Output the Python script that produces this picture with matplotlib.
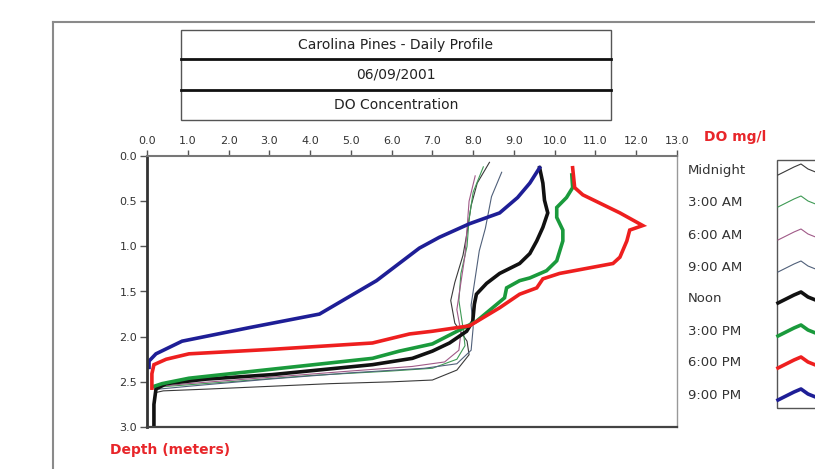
import matplotlib
matplotlib.use("Agg")
import matplotlib.pyplot as plt
from matplotlib.patches import Rectangle
from matplotlib.lines import Line2D

# ---- profile data: dissolved oxygen (mg/l) versus depth (m) ----
midnight_do = [8.4, 8.1, 7.95, 7.85, 7.75, 7.55, 7.45, 7.55, 7.85, 7.9, 7.6, 7.0, 6.0, 4.5, 3.0, 1.5, 0.4, 0.2]
midnight_depth = [0.07, 0.3, 0.55, 0.85, 1.1, 1.4, 1.6, 1.85, 2.05, 2.2, 2.37, 2.48, 2.5, 2.52, 2.55, 2.58, 2.6, 2.62]

am3_do = [8.25, 8.0, 7.9, 7.85, 7.7, 7.65, 7.75, 7.8, 7.6, 7.0, 6.0, 4.0, 2.0, 0.5, 0.2]
am3_depth = [0.12, 0.4, 0.7, 1.0, 1.3, 1.6, 1.9, 2.1, 2.25, 2.35, 2.38, 2.43, 2.5, 2.55, 2.56]

am6_do = [8.05, 7.9, 7.85, 7.8, 7.7, 7.6, 7.7, 7.65, 7.3, 6.5, 5.0, 3.0, 1.0, 0.3]
am6_depth = [0.22, 0.5, 0.8, 1.1, 1.4, 1.7, 1.95, 2.15, 2.28, 2.33, 2.38, 2.45, 2.52, 2.55]

am9_do = [8.7, 8.45, 8.3, 8.15, 8.05, 7.95, 8.0, 7.95, 7.6, 6.8, 5.0, 3.0, 1.0, 0.3]
am9_depth = [0.18, 0.45, 0.8, 1.05, 1.35, 1.65, 1.9, 2.15, 2.3, 2.35, 2.4, 2.47, 2.55, 2.58]

noon_do = [9.63, 9.71, 9.75, 9.83, 9.71, 9.56, 9.39, 9.14, 8.65, 8.33, 8.08, 8.03, 7.99, 7.84,
           7.42, 7.0, 6.51, 5.53, 3.07, 1.45, 0.47, 0.22, 0.17, 0.17]
noon_depth = [0.13, 0.30, 0.49, 0.63, 0.79, 0.94, 1.08, 1.19, 1.30, 1.41, 1.53, 1.64, 1.83, 1.94,
              2.07, 2.16, 2.24, 2.31, 2.42, 2.47, 2.52, 2.58, 2.75, 2.99]

pm3_do = [10.42, 10.44, 10.29, 10.05, 10.05, 10.20, 10.20, 10.05, 9.80, 9.39, 9.14, 8.82, 8.77,
          8.08, 7.0, 6.19, 5.53, 3.07, 1.03, 0.37, 0.17]
pm3_depth = [0.21, 0.35, 0.46, 0.57, 0.68, 0.82, 0.94, 1.16, 1.27, 1.35, 1.38, 1.46, 1.57,
             1.83, 2.08, 2.16, 2.24, 2.36, 2.46, 2.52, 2.55]

pm6_do = [10.44, 10.49, 10.69, 11.60, 12.16, 11.84, 11.77, 11.60, 11.43, 10.12, 9.71, 9.56, 9.14,
          8.65, 7.91, 7.0, 6.44, 5.53, 3.07, 1.03, 0.47, 0.17, 0.12, 0.12]
pm6_depth = [0.13, 0.35, 0.43, 0.63, 0.77, 0.82, 0.94, 1.12, 1.19, 1.30, 1.36, 1.46, 1.53,
             1.68, 1.88, 1.94, 1.97, 2.07, 2.14, 2.19, 2.25, 2.31, 2.41, 2.57]

pm9_do = [9.63, 9.39, 9.09, 8.65, 7.91, 7.17, 6.68, 5.63, 4.23, 2.51, 0.86, 0.22, 0.05, 0.05]
pm9_depth = [0.13, 0.30, 0.46, 0.63, 0.75, 0.90, 1.02, 1.38, 1.75, 1.90, 2.05, 2.19, 2.27, 2.34]

series_labels = ["Midnight", "3:00 AM", "6:00 AM", "9:00 AM", "Noon", "3:00 PM", "6:00 PM", "9:00 PM"]
x_ticks = [0, 1, 2, 3, 4, 5, 6, 7, 8, 9, 10, 11, 12, 13]
x_tick_labels = ["0.0", "1.0", "2.0", "3.0", "4.0", "5.0", "6.0", "7.0", "8.0", "9.0",
                 "10.0", "11.0", "12.0", "13.0"]
y_ticks = [0.0, 0.5, 1.0, 1.5, 2.0, 2.5, 3.0]
y_tick_labels = ["0.0", "0.5", "1.0", "1.5", "2.0", "2.5", "3.0"]
title_lines = ["Carolina Pines - Daily Profile", "06/09/2001", "DO Concentration"]

series = [
    (midnight_do, midnight_depth, "#3a3a3a", 0.8),
    (am3_do, am3_depth, "#3f9a55", 0.8),
    (am6_do, am6_depth, "#a05a88", 0.8),
    (am9_do, am9_depth, "#50607a", 0.8),
    (noon_do, noon_depth, "#111111", 2.6),
    (pm3_do, pm3_depth, "#1a9a3c", 2.6),
    (pm6_do, pm6_depth, "#ee1f1f", 2.6),
    (pm9_do, pm9_depth, "#1e1e96", 2.6),
]

W, H = 815, 469
fig = plt.figure(figsize=(W / 100, H / 100), dpi=100)
fig.patch.set_facecolor("white")


def fx(px):
    return px / W


def fy(py):
    return 1 - py / H


# outer frame
fig.add_artist(Line2D([fx(53), fx(53)], [fy(22), 0], color="#8a8a8a", lw=1.5))
fig.add_artist(Line2D([fx(53), 1.0], [fy(22), fy(22)], color="#8a8a8a", lw=1.5))

# plot area
ax = fig.add_axes([fx(147), fy(427), fx(677) - fx(147), fy(156) - fy(427)])
for do, depth, color, lw in series:
    ax.plot(do, depth, color=color, lw=lw, solid_joinstyle="miter")

ax.set_xlim(0, 13)
ax.set_ylim(3.0, 0.0)
ax.xaxis.tick_top()
ax.set_xticks(x_ticks)
ax.set_xticklabels(x_tick_labels)
ax.set_yticks(y_ticks)
ax.set_yticklabels(y_tick_labels)
ax.tick_params(axis="x", direction="out", length=4, width=1, color="#555555",
               labelsize=8, labelcolor="#333333", pad=3)
ax.tick_params(axis="y", direction="out", length=5, width=1, color="#555555",
               labelsize=8, labelcolor="#333333", pad=2)
ax.spines["left"].set_linewidth(2.0)
ax.spines["left"].set_color("#333333")
ax.spines["bottom"].set_linewidth(1.6)
ax.spines["bottom"].set_color("#444444")
ax.spines["top"].set_linewidth(1.5)
ax.spines["top"].set_color("#777777")
ax.spines["right"].set_linewidth(1.0)
ax.spines["right"].set_color("#999999")

# axis captions
fig.text(fx(704), fy(137), "DO mg/l", color="#e8262a", fontsize=10, fontweight="bold",
         ha="left", va="center")
fig.text(fx(110), fy(450), "Depth (meters)", color="#e8262a", fontsize=10, fontweight="bold",
         ha="left", va="center")

# stacked title boxes
box_left, box_right = 181, 611
box_edges = [30, 59, 90, 120]
fig.add_artist(Rectangle((fx(box_left), fy(box_edges[-1])), fx(box_right) - fx(box_left),
                         fy(box_edges[0]) - fy(box_edges[-1]), transform=fig.transFigure,
                         fill=False, edgecolor="#555555", lw=1.0))
for yb in box_edges[1:3]:
    fig.add_artist(Line2D([fx(box_left), fx(box_right)], [fy(yb), fy(yb)], color="#111111", lw=2.0))
for i, txt in enumerate(title_lines):
    ymid = (box_edges[i] + box_edges[i + 1]) / 2
    fig.text(fx((box_left + box_right) / 2), fy(ymid), txt, fontsize=10, color="#222222",
             ha="center", va="center")

# legend
row_y = [170, 202, 235, 267, 298, 331, 363, 395]
fig.add_artist(Rectangle((fx(777), fy(408)), fx(860) - fx(777), fy(160) - fy(408),
                         transform=fig.transFigure, fill=False, edgecolor="#555555", lw=1.0))
sample_dx = [0, 8, 16, 23, 30, 40]
sample_dy = [5, 1, -3, -6, -1, 3]
for (do, depth, color, lw), label, yr in zip(series, series_labels, row_y):
    fig.text(fx(688), fy(yr), label, fontsize=9.5, color="#333333", ha="left", va="center")
    fig.add_artist(Line2D([fx(778 + d) for d in sample_dx], [fy(yr + d) for d in sample_dy],
                          color=color, lw=lw))

fig.savefig("out.png", dpi=100, facecolor="white")
